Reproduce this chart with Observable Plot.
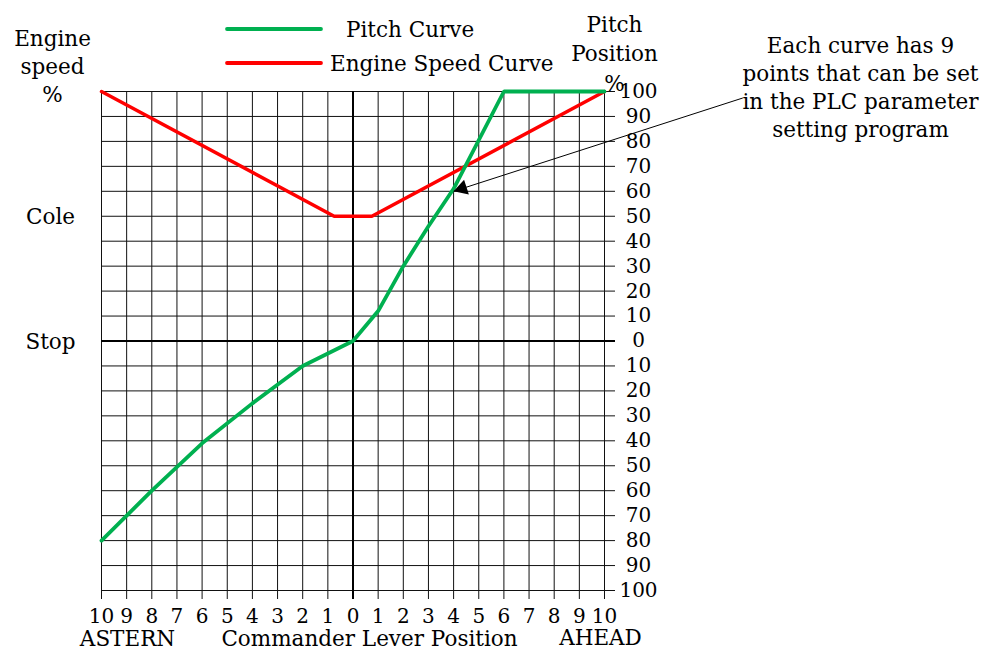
<!DOCTYPE html>
<html>
<head>
<meta charset="utf-8">
<script src="https://cdn.jsdelivr.net/npm/d3@7"></script>
<script src="https://cdn.jsdelivr.net/npm/@observablehq/plot@0.6"></script>
<style>
  body { margin: 0; background: #fff; }
  #wrap { position: relative; width: 984px; height: 652px; }
</style>
</head>
<body>
<div id="wrap"></div>
<script>
// ---- data ----
const leverTicks = [-10,-9,-8,-7,-6,-5,-4,-3,-2,-1,0,1,2,3,4,5,6,7,8,9,10];
const pctTicks = [-100,-90,-80,-70,-60,-50,-40,-30,-20,-10,0,10,20,30,40,50,60,70,80,90,100];

const pitchLever = [-10, -8, -6, -4, -2, 0, 1, 2, 3, 4, 6, 10];
const pitchPct   = [-80, -60, -41, -25, -10, 0, 12, 30, 46, 61, 100, 100];

const speedLever = [-10, -0.75, 0.75, 10];
const speedPct   = [100, 50, 50, 100];

const seriesNames  = ["Pitch Curve", "Engine Speed Curve"];
const seriesColors = ["#00b050", "#ff0000"];

const leftLevelLabels = ["Cole", "Stop"];
const leftLevelValues = [50, 0];

const noteText = "Each curve has 9\npoints that can be set\nin the PLC parameter\nsetting program";
const arrowFrom = {x: 15.5, y: 97.4};
const arrowTo   = {x: 4, y: 60};

// ---- tables ----
const pitch = pitchLever.map((x, i) => ({x, y: pitchPct[i]}));
const speed = speedLever.map((x, i) => ({x, y: speedPct[i]}));
const leftLabels = leftLevelLabels.map((t, i) => ({t, y: leftLevelValues[i]}));
const arrow = [{x1: arrowFrom.x, y1: arrowFrom.y, x2: arrowTo.x, y2: arrowTo.y}];

// ---- layout ----
const W = 984, H = 652, mL = 101, mR = 380, mT = 91, mB = 62;
const kx = (W - mL - mR) / 20, ky = (H - mT - mB) / 200;
const vx = (arrowTo.x - arrowFrom.x) * kx, vy = -(arrowTo.y - arrowFrom.y) * ky;
const vl = Math.hypot(vx, vy), ux = vx / vl, uy = vy / vl;
const headR = 5.8;
const headTip = 2 * Math.sqrt((Math.PI * headR * headR) / (3 * Math.sqrt(3)));
const headRot = Math.atan2(ux, -uy) * 180 / Math.PI;

const FONT = "'DejaVu Serif', serif";
const TXT = 21.5, NUM = 20;

const chart = Plot.plot({
  width: W, height: H,
  marginLeft: mL, marginRight: mR, marginTop: mT, marginBottom: mB,
  x: {domain: [-10, 10], axis: null},
  y: {domain: [-100, 100], axis: null},
  style: {fontFamily: FONT, fontSize: NUM + "px", color: "#000", background: "#fff", overflow: "visible"},
  marks: [
    Plot.ruleX(leverTicks, {x: d => d, insetBottom: -9, stroke: "#111", strokeWidth: 1}),
    Plot.ruleY(pctTicks, {y: d => d, insetRight: -11, stroke: "#111", strokeWidth: 1}),
    Plot.ruleX([0], {x: d => d, insetBottom: -9, stroke: "#000", strokeWidth: 2}),
    Plot.ruleY([0], {y: d => d, insetRight: -11, stroke: "#000", strokeWidth: 2}),
    Plot.line(speed, {x: "x", y: "y", stroke: seriesColors[1], strokeWidth: 3.5, strokeLinejoin: "miter"}),
    Plot.line(pitch, {x: "x", y: "y", stroke: seriesColors[0], strokeWidth: 3.8, strokeLinejoin: "miter"}),
    Plot.link(arrow, {x1: "x1", y1: "y1", x2: "x2", y2: "y2", stroke: "#000", strokeWidth: 1}),
    Plot.dot(arrow, {x: "x2", y: "y2", symbol: "triangle", r: headR, fill: "#000", stroke: "none",
      rotate: headRot, dx: -ux * headTip, dy: -uy * headTip}),
    // bottom tick labels
    Plot.text(leverTicks, {x: d => d, text: d => String(Math.abs(d)), frameAnchor: "bottom",
      lineAnchor: "bottom", dy: 32, fontSize: NUM, fill: "#000", letterSpacing: "-1px"}),
    // right tick labels
    Plot.text(pctTicks, {y: d => d, text: d => String(Math.abs(d)), frameAnchor: "right",
      textAnchor: "middle", lineAnchor: "middle", dx: 34, fontSize: NUM, fill: "#000", letterSpacing: "-1px"}),
    // left level labels
    Plot.text(leftLabels, {y: "y", text: "t", frameAnchor: "left", textAnchor: "middle",
      lineAnchor: "middle", dx: -51, dy: 1, fontSize: TXT, fill: "#000"}),
    // axis titles
    Plot.text(["Engine\nspeed\n%"], {text: d => d, frameAnchor: "top-left", textAnchor: "middle",
      lineAnchor: "bottom", lineHeight: 1.3, dx: -49, dy: 10, fontSize: TXT, fill: "#000"}),
    Plot.text(["Pitch\nPosition\n%"], {text: d => d, frameAnchor: "top-right", textAnchor: "middle",
      lineAnchor: "bottom", lineHeight: 1.35, dx: 10, dy: -1, fontSize: TXT, fill: "#000"}),
    Plot.text([noteText], {text: d => d, frameAnchor: "top-right", textAnchor: "middle",
      lineAnchor: "bottom", lineHeight: 1.3, dx: 256, dy: 45, fontSize: TXT, fill: "#000"}),
    Plot.text(["ASTERN"], {text: d => d, frameAnchor: "bottom-left", textAnchor: "middle",
      lineAnchor: "bottom", dx: 26, dy: 55, fontSize: TXT, fill: "#000"}),
    Plot.text(["Commander Lever Position"], {text: d => d, frameAnchor: "bottom-left", textAnchor: "middle",
      lineAnchor: "bottom", dx: 268, dy: 55, fontSize: TXT, fill: "#000"}),
    Plot.text(["AHEAD"], {text: d => d, frameAnchor: "bottom-left", textAnchor: "middle",
      lineAnchor: "bottom", dx: 499, dy: 54, fontSize: TXT, fill: "#000"})
  ]
});
const wrap = document.getElementById("wrap");
wrap.appendChild(chart);

// ---- legend (overlay) ----
const legendLayout = [
  {lineY: 29, textX: 346, baseline: 37},
  {lineY: 63, textX: 330, baseline: 71}
];
const leg = d3.select(wrap).append("svg")
  .attr("width", W).attr("height", 100)
  .style("position", "absolute").style("left", "0px").style("top", "0px")
  .style("font-family", FONT);
seriesNames.forEach((name, i) => {
  const L = legendLayout[i];
  leg.append("line").attr("x1", 227).attr("x2", 321).attr("y1", L.lineY).attr("y2", L.lineY)
    .attr("stroke", seriesColors[i]).attr("stroke-width", 3.8).attr("stroke-linecap", "round");
  leg.append("text").attr("x", L.textX).attr("y", L.baseline).attr("font-size", TXT)
    .attr("fill", "#000").text(name);
});
</script>
</body>
</html>
